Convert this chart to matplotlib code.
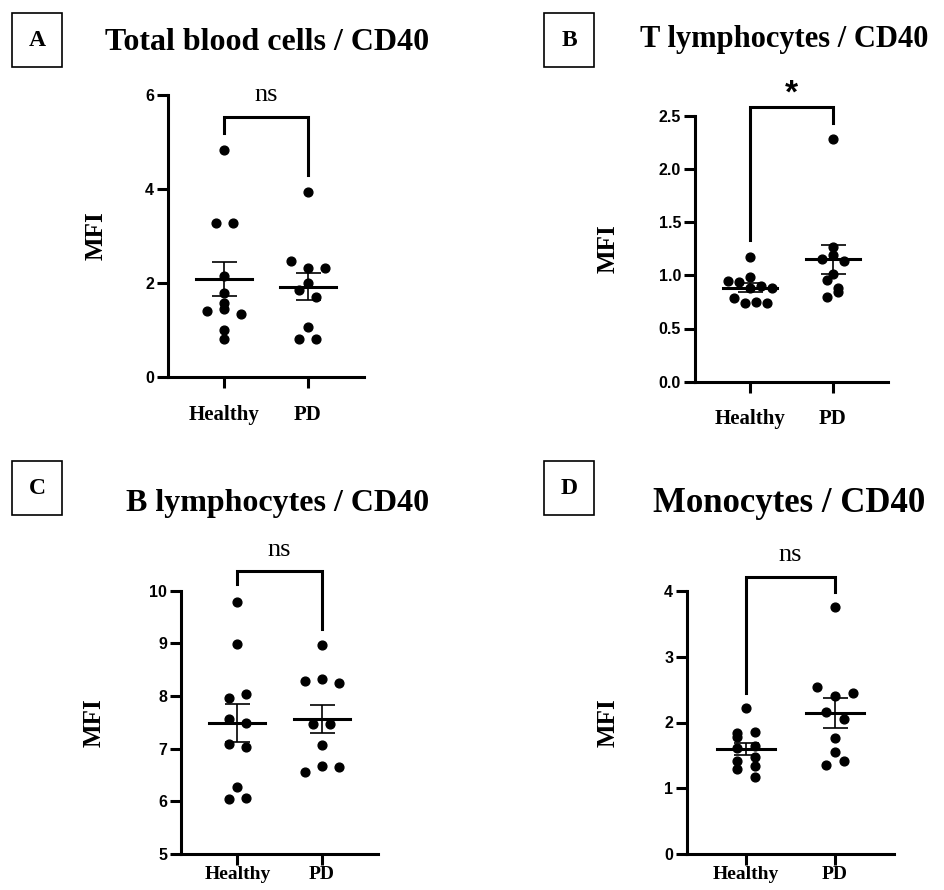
import numpy as np
import matplotlib
matplotlib.use('Agg')
import matplotlib.pyplot as plt
from matplotlib.patches import Rectangle

W, H = 944, 890
groups = ['Healthy', 'PD']

# MFI values (listed top to bottom)
total_healthy = [4.82, 3.28, 3.28, 2.14, 1.79, 1.58, 1.41, 1.45, 1.35, 1.01, 0.80]
total_pd = [3.93, 2.47, 2.32, 2.32, 1.99, 1.85, 1.70, 1.07, 0.80, 0.80]

t_healthy = [1.175, 0.987, 0.949, 0.940, 0.878, 0.902, 0.883, 0.789, 0.737, 0.752, 0.737]
t_pd = [2.28, 1.263, 1.153, 1.191, 1.134, 1.009, 0.956, 0.883, 0.793, 0.840]

b_healthy = [9.79, 8.98, 7.97, 8.04, 7.56, 7.49, 7.09, 7.03, 6.28, 6.04, 6.07]
b_pd = [8.96, 8.28, 8.32, 8.25, 7.47, 7.47, 7.07, 6.55, 6.68, 6.65]

mono_healthy = [2.215, 1.836, 1.860, 1.775, 1.643, 1.608, 1.416, 1.481, 1.344, 1.294, 1.178]
mono_pd = [3.75, 2.534, 2.402, 2.452, 2.155, 2.053, 1.760, 1.355, 1.548, 1.420]

titles = ['Total blood cells / CD40', 'T lymphocytes / CD40',
          'B lymphocytes / CD40', 'Monocytes / CD40']
letters = ['A', 'B', 'C', 'D']
signif = ['ns', '*', 'ns', 'ns']
yticks = [[0, 2, 4, 6], [0.0, 0.5, 1.0, 1.5, 2.0, 2.5],
          [5, 6, 7, 8, 9, 10], [0, 1, 2, 3, 4]]

SERIF = 'Liberation Serif'
SANS = 'Liberation Sans'


def fx(x):
    return x / W


def fy(y):
    return 1 - y / H


def swarm(ax, vals, step_px=11, thresh_px=9):
    # simple row-based scatter layout, like Prism's
    vals = np.asarray(vals, dtype=float)
    p0 = ax.transData.transform((0, 0))
    p1 = ax.transData.transform((1, 1))
    xpx, ypx = p1[0] - p0[0], p1[1] - p0[1]
    order = np.argsort(vals, kind='stable')
    rows, cur = [], [order[0]]
    for i in order[1:]:
        if (vals[i] - vals[cur[0]]) * ypx < thresh_px:
            cur.append(i)
        else:
            rows.append(cur)
            cur = [i]
    rows.append(cur)
    off = np.zeros(len(vals))
    for r in rows:
        r = sorted(r)
        n = len(r)
        for k, i in enumerate(r):
            off[i] = (k - (n - 1) / 2) * step_px / xpx
    return off


# panel layout in pixels: left, top, right, bottom
rects = [(168, 95, 364, 377), (695, 115.7, 888, 381.7),
         (181, 590.7, 378, 854), (687, 590.7, 894, 854.3)]
data = [(total_healthy, total_pd), (t_healthy, t_pd),
        (b_healthy, b_pd), (mono_healthy, mono_pd)]
# bracket: top, left end, right end, label y
brackets = [(5.53, 5.19, 4.30, 6.0), (2.579, 1.332, 2.434, 2.70),
            (10.379, 10.12, 9.27, 10.77), (4.203, 2.452, 3.985, 4.54)]
title_pos = [(267, 42, 23), (784, 40, 22), (278, 504, 23), (789, 503, 25)]
box_pos = [(12, 13), (544, 13), (12, 461), (544, 461)]
mfi_x = [96, 608, 94, 608]
steps = [17, 11, 17, 18]
xpads = [12, 12, 0.5, 0.5]

fig = plt.figure(figsize=(W / 100, H / 100), dpi=100)

for k in range(4):
    l, t, r, b = rects[k]
    ax = fig.add_axes([fx(l), fy(b), fx(r - l), (b - t) / H])
    ax.set_xlim(-0.667, 1.667)
    ax.set_ylim(yticks[k][0], yticks[k][-1])
    for side in ['top', 'right']:
        ax.spines[side].set_visible(False)
    for side in ['left', 'bottom']:
        ax.spines[side].set_linewidth(2.2)
    ax.tick_params(width=2.2, length=8, pad=2)
    ax.tick_params(axis='x', pad=xpads[k])
    ax.set_yticks(yticks[k])
    if k == 1:
        ax.set_yticklabels([f'{v:.1f}' for v in yticks[k]])
    for lab in ax.get_yticklabels():
        lab.set_fontfamily(SANS)
        lab.set_fontweight('bold')
        lab.set_fontsize(11.5)
    ax.set_xticks([0, 1])
    ax.set_xticklabels(groups, fontfamily=SERIF, fontweight='bold',
                       fontsize=15 if k < 2 else 14)

    for g, vals in enumerate(data[k]):
        vals = np.asarray(vals)
        off = swarm(ax, vals, step_px=steps[k])
        ax.scatter(g + off, vals, s=40, color='black', zorder=3, clip_on=False)
        m = vals.mean()
        sem = vals.std(ddof=1) / np.sqrt(len(vals))
        ax.plot([g - 0.33, g + 0.33], [m, m], color='black', lw=2.2, zorder=4)
        ax.errorbar(g, m, yerr=sem, color='black', lw=1.2, capsize=9,
                    capthick=1.2, zorder=4)

    top, lend, rend, ty = brackets[k]
    ax.plot([0, 0, 1, 1], [lend, top, top, rend], color='black', lw=2.2,
            clip_on=False, solid_joinstyle='miter')
    if signif[k] == '*':
        ax.text(0.5, ty, '*', ha='center', va='center', fontsize=24,
                fontweight='bold', fontfamily=SANS)
    else:
        ax.text(0.5, ty, 'ns', ha='center', va='center', fontsize=19,
                fontfamily=SERIF)

    fig.text(fx(mfi_x[k]), fy((t + b) / 2), 'MFI', rotation=90, ha='center',
             va='center', fontsize=18, fontweight='bold', fontfamily=SERIF)

    tx, ty2, tsize = title_pos[k]
    fig.text(fx(tx), fy(ty2), titles[k], ha='center', va='center',
             fontsize=tsize, fontweight='bold', fontfamily=SERIF)

    bx, by = box_pos[k]
    fig.add_artist(Rectangle((fx(bx), fy(by + 54)), 50 / W, 54 / H,
                             transform=fig.transFigure, fill=False,
                             edgecolor='black', lw=1.2))
    fig.text(fx(bx + 25), fy(by + 27), letters[k], ha='center', va='center',
             fontsize=17, fontweight='bold', fontfamily=SERIF)

fig.savefig('out.png', dpi=100)
